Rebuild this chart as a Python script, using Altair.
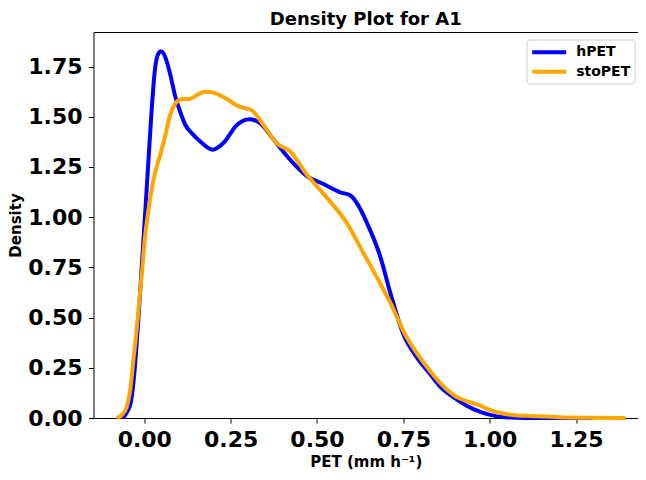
import altair as alt
import pandas as pd

# Series
hpet_x = [-0.062, -0.05, -0.04, -0.03, -0.02, -0.01, 0.0, 0.012, 0.021, 0.031, 0.041,
          0.048, 0.06, 0.075, 0.089, 0.104, 0.119, 0.133, 0.162, 0.198, 0.229, 0.268,
          0.305, 0.336, 0.375, 0.422, 0.47, 0.519, 0.567, 0.597, 0.625, 0.645, 0.683,
          0.712, 0.751, 0.79, 0.828, 0.86, 0.896, 0.935, 0.973, 1.021, 1.06, 1.1, 1.2, 1.3]
hpet_y = [0.0, 0.03, 0.07, 0.2, 0.42, 0.68, 0.95, 1.28, 1.525, 1.737, 1.815,
          1.826, 1.80, 1.712, 1.606, 1.525, 1.459, 1.426, 1.377, 1.336, 1.369, 1.459,
          1.488, 1.467, 1.385, 1.287, 1.206, 1.165, 1.124, 1.108, 1.042, 0.97, 0.805,
          0.625, 0.413, 0.30, 0.218, 0.15, 0.103, 0.06, 0.03, 0.008, 0.002, 0.0, 0.0, 0.0]

stopet_x = [-0.08, -0.065, -0.051, -0.04, -0.032, -0.022, -0.013, -0.005, 0.002, 0.007,
            0.015, 0.026, 0.046, 0.06, 0.075, 0.09, 0.104, 0.133, 0.155, 0.176, 0.2,
            0.229, 0.277, 0.311, 0.345, 0.383, 0.422, 0.47, 0.519, 0.587, 0.635, 0.683,
            0.712, 0.756, 0.79, 0.828, 0.865, 0.906, 0.94, 0.973, 1.0, 1.041, 1.08,
            1.118, 1.2, 1.3, 1.393]
stopet_y = [0.0, 0.015, 0.054, 0.15, 0.28, 0.44, 0.61, 0.76, 0.9, 0.97,
            1.07, 1.18, 1.31, 1.40, 1.51, 1.565, 1.586, 1.59, 1.61, 1.625, 1.62,
            1.598, 1.549, 1.532, 1.459, 1.369, 1.328, 1.214, 1.116, 0.969, 0.82, 0.67,
            0.576, 0.413, 0.32, 0.233, 0.16, 0.103, 0.08, 0.062, 0.04, 0.021, 0.013,
            0.01, 0.004, 0.001, 0.0]

series_names = ["hPET", "stoPET"]
series_colors = ["#0000ff", "#ffa500"]
x_ticks = [0.0, 0.25, 0.5, 0.75, 1.0, 1.25]
y_ticks = [0.0, 0.25, 0.5, 0.75, 1.0, 1.25, 1.5, 1.75]

rows = [{"PET": x, "Density": y, "series": "hPET"} for x, y in zip(hpet_x, hpet_y)]
rows += [{"PET": x, "Density": y, "series": "stoPET"} for x, y in zip(stopet_x, stopet_y)]
df = pd.DataFrame(rows)

FONT = "DejaVu Sans"

chart = alt.Chart(df).mark_line(strokeWidth=4, interpolate="monotone").encode(
    x=alt.X("PET:Q",
            scale=alt.Scale(domain=[-0.147, 1.4294], nice=False, zero=False),
            axis=alt.Axis(values=x_ticks, format=".2f", title="PET (mm h⁻¹)",
                          labelPadding=6.5, titlePadding=3.5)),
    y=alt.Y("Density:Q",
            scale=alt.Scale(domain=[0, 1.922], nice=False),
            axis=alt.Axis(values=y_ticks, format=".2f", title="Density",
                          labelPadding=6.5, titlePadding=4.5)),
    color=alt.Color("series:N",
                    scale=alt.Scale(domain=series_names, range=series_colors),
                    legend=alt.Legend(title=None, orient="none", legendX=433, legendY=7.5,
                                      symbolType="M-1,0L3.86,0", symbolSize=196,
                                      symbolStrokeWidth=4, labelFontSize=14, labelFont=FONT,
                                      labelFontWeight="bold", labelColor="black",
                                      labelOffset=28, padding=3.7, rowPadding=2.6,
                                      strokeColor="#cccccc", fillColor="white",
                                      cornerRadius=3)),
).properties(
    width=544.5,
    height=386,
    title=alt.TitleParams("Density Plot for A1", fontSize=18, font=FONT,
                          fontWeight="bold", anchor="middle", offset=3, color="black"),
    autosize=alt.AutoSizeParams(type="none"),
    padding={"left": 85.5, "top": 24, "right": 0, "bottom": 53},
).configure_axis(
    labelFont=FONT, labelFontWeight="bold", labelFontSize=22, labelColor="black",
    titleFont=FONT, titleFontWeight="bold", titleFontSize=15, titleColor="black",
    grid=False, domain=False, tickColor="black", tickSize=5, tickWidth=1,
).configure_view(stroke="black", strokeWidth=1)

chart.save("out.html", embed_options={"renderer": "svg", "actions": False})
